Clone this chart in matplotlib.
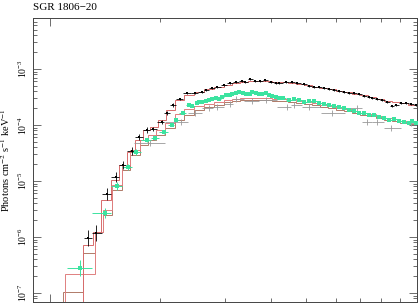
import numpy as np
import matplotlib
matplotlib.use("Agg")
import matplotlib.pyplot as plt
from matplotlib.ticker import LogLocator, LogFormatterMathtext, NullFormatter

plt.rcParams['font.family'] = ['Liberation Serif', 'DejaVu Serif']
plt.rcParams['mathtext.fontset'] = 'stix'

# black spectrum (keV, photons cm^-2 s^-1 keV^-1)
black_e = [1.27, 1.34, 1.43, 1.51, 1.58, 1.67, 1.745, 1.835, 1.905, 2.015, 2.09, 2.16,
           2.256, 2.37, 2.48, 2.59, 2.67, 2.76, 2.86, 2.99, 3.09, 3.22, 3.33, 3.41, 3.52,
           3.63, 3.74, 3.86, 4.01, 4.14, 4.22, 4.41, 4.58, 4.72, 4.93, 5.09, 5.25, 5.42,
           5.59, 5.77, 5.95, 6.14, 6.33, 6.53, 6.74, 6.96, 7.18, 7.41, 7.55, 7.79, 8.03,
           8.29, 8.55, 8.77, 9.05, 9.34, 9.63, 9.94]
black_f = [9.6e-7, 1.18e-6, 5.86e-6, 1.18e-5, 1.93e-5, 3.43e-5, 6.11e-5, 8.14e-5, 8.48e-5,
           1.13e-4, 1.64e-4, 2.28e-4, 2.91e-4, 3.73e-4, 3.73e-4, 3.89e-4, 4.22e-4, 4.58e-4,
           4.77e-4, 5.18e-4, 5.62e-4, 5.86e-4, 6.11e-4, 5.86e-4, 6.62e-4, 6.11e-4, 6.11e-4,
           6.37e-4, 5.86e-4, 5.62e-4, 5.62e-4, 5.86e-4, 5.86e-4, 5.62e-4, 5.40e-4, 4.97e-4,
           4.77e-4, 4.77e-4, 4.58e-4, 4.40e-4, 4.22e-4, 4.05e-4, 3.89e-4, 3.73e-4, 3.73e-4,
           3.58e-4, 3.30e-4, 3.16e-4, 3.03e-4, 2.91e-4, 2.79e-4, 2.57e-4, 2.18e-4, 2.28e-4,
           2.47e-4, 2.47e-4, 2.37e-4, 2.28e-4]
black_rel = [0.4, 0.4, 0.3, 0.25, 0.2, 0.18, 0.15, 0.12, 0.1, 0.1, 0.08, 0.08] + [0.05] * 46

# green spectrum
green_e = [1.206, 1.41, 1.52, 1.63, 1.72, 1.835, 1.93, 2.05, 2.145, 2.21, 2.30, 2.40, 2.446,
           2.51, 2.556, 2.60, 2.67, 2.72, 2.773, 2.84, 2.897, 2.95, 3.027, 3.09, 3.144,
           3.22, 3.283, 3.35, 3.43, 3.50, 3.56, 3.65, 3.72, 3.79, 3.89, 3.96, 4.04, 4.14,
           4.22, 4.325, 4.49, 4.63, 4.78, 4.93, 5.09, 5.25, 5.42, 5.59, 5.77, 5.95, 6.14,
           6.33, 6.53, 6.74, 6.96, 7.18, 7.41, 7.64, 7.88, 8.14, 8.39, 8.66, 8.94, 9.22,
           9.51, 9.69, 9.94]
green_f = [2.79e-7, 2.68e-6, 8.14e-6, 1.78e-5, 3.30e-5, 5.40e-5, 5.86e-5, 7.50e-5, 1.0e-4,
           1.23e-4, 1.64e-4, 2.28e-4, 2.18e-4, 2.47e-4, 2.57e-4, 2.57e-4, 2.68e-4, 2.79e-4,
           2.91e-4, 3.03e-4, 2.91e-4, 3.16e-4, 3.43e-4, 3.43e-4, 3.58e-4, 3.73e-4, 3.89e-4,
           3.73e-4, 3.58e-4, 3.58e-4, 3.89e-4, 3.73e-4, 3.58e-4, 3.58e-4, 3.73e-4, 3.43e-4,
           3.30e-4, 3.16e-4, 3.03e-4, 3.03e-4, 2.79e-4, 2.91e-4, 2.79e-4, 2.57e-4, 2.68e-4,
           2.68e-4, 2.47e-4, 2.37e-4, 2.28e-4, 2.18e-4, 2.10e-4, 2.01e-4, 1.85e-4, 1.78e-4,
           1.64e-4, 1.64e-4, 1.51e-4, 1.51e-4, 1.39e-4, 1.33e-4, 1.23e-4, 1.28e-4, 1.18e-4,
           1.13e-4, 1.09e-4, 1.18e-4, 1.09e-4]
green_rel = [0.4, 0.25, 0.2, 0.15, 0.12, 0.1, 0.1, 0.08] + [0.06] * 59

# grey spectrum
grey_e = [1.87, 2.28, 2.48, 2.72, 2.86, 3.09, 3.22, 3.56, 3.89, 4.43, 4.63, 5.09, 5.875,
          6.87, 7.31, 7.79, 8.50, 9.63]
grey_f = [4.77e-5, 1.13e-4, 1.64e-4, 2.01e-4, 2.10e-4, 2.37e-4, 2.91e-4, 2.68e-4, 2.79e-4,
          2.10e-4, 2.28e-4, 2.10e-4, 1.64e-4, 2.01e-4, 1.13e-4, 1.13e-4, 8.84e-5, 1.09e-4]
grey_rel = [0.15] * 18

# folded models (step functions)
edges_hi = [3.144, 3.304, 3.474, 3.652, 3.840, 4.036, 4.244, 4.462, 4.691, 4.931, 5.185,
            5.450, 5.730, 6.025, 6.333, 6.659, 7.000, 7.360, 7.738, 8.135, 8.553, 8.991,
            9.452, 10.06]
edges_a = [1.229, 1.309, 1.376, 1.465, 1.540, 1.619, 1.702, 1.789, 1.869, 1.965, 2.066,
           2.186, 2.327, 2.477, 2.637, 2.808, 2.990] + edges_hi
model_a = [7.2e-7, 1.23e-6, 4.58e-6, 1.04e-5, 1.93e-5, 3.30e-5, 5.40e-5, 8.14e-5, 9.2e-5,
           1.23e-4, 1.85e-4, 2.79e-4, 3.43e-4, 3.89e-4, 4.40e-4, 4.77e-4,
           5.18e-4, 5.62e-4, 5.86e-4, 6.11e-4, 6.11e-4, 6.11e-4, 5.86e-4, 5.86e-4, 5.62e-4,
           5.40e-4, 5.18e-4, 4.77e-4, 4.58e-4, 4.40e-4, 4.05e-4, 3.89e-4, 3.58e-4, 3.43e-4,
           3.16e-4, 2.91e-4, 2.68e-4, 2.57e-4, 2.47e-4, 2.28e-4]
edges_b = [1.098, 1.325, 1.393, 1.474, 1.569, 1.650, 1.756, 1.846, 1.941, 2.053, 2.186,
           2.327, 2.477, 2.637, 2.808, 2.990] + edges_hi
model_b = [2.18e-7, 1.23e-6, 3.03e-6, 8.48e-6, 1.93e-5, 3.58e-5, 5.40e-5, 6.62e-5, 8.14e-5,
           1.09e-4, 1.57e-4, 1.93e-4, 2.18e-4, 2.37e-4, 2.57e-4,
           2.79e-4, 2.91e-4, 3.03e-4, 3.03e-4, 3.03e-4, 3.03e-4, 2.91e-4, 2.91e-4, 2.79e-4,
           2.68e-4, 2.57e-4, 2.47e-4, 2.28e-4, 2.18e-4, 2.01e-4, 1.93e-4, 1.78e-4, 1.64e-4,
           1.57e-4, 1.45e-4, 1.33e-4, 1.28e-4, 1.18e-4, 1.13e-4]
edges_c = [1.085, 1.229, 1.325, 1.393, 1.474, 1.569, 1.650, 1.756, 1.846, 1.941, 2.053,
           2.186, 2.327, 2.477, 2.637, 2.808, 2.990] + edges_hi
model_c = [1.04e-7, 5.18e-7, 1.23e-6, 2.47e-6, 6.9e-6, 1.57e-5, 2.91e-5, 4.40e-5, 5.40e-5,
           6.62e-5, 8.84e-5, 1.23e-4, 1.51e-4, 1.85e-4, 2.10e-4, 2.28e-4,
           2.57e-4, 2.68e-4, 2.79e-4, 2.79e-4, 2.79e-4, 2.79e-4, 2.68e-4, 2.68e-4, 2.57e-4,
           2.47e-4, 2.37e-4, 2.28e-4, 2.10e-4, 2.01e-4, 1.85e-4, 1.78e-4, 1.64e-4, 1.51e-4,
           1.45e-4, 1.33e-4, 1.23e-4, 1.18e-4, 1.09e-4, 1.04e-4]


def half_widths(e):
    e = np.asarray(e)
    mids = np.sqrt(e[1:] * e[:-1])
    lo = np.concatenate([[e[0] / (mids[0] / e[0])], mids])
    hi = np.concatenate([mids, [e[-1] * (e[-1] / mids[-1])]])
    return [e - lo, hi - e]


def draw_data(ax, e, f, rel, color, marker, ms, lw):
    f = np.asarray(f)
    r = np.asarray(rel)
    yerr = [f - f / (1 + r), f * r]
    ax.errorbar(e, f, xerr=half_widths(e), yerr=yerr, fmt=marker, color=color,
                ms=ms, elinewidth=lw, capsize=0, mew=0, zorder=3)


fig = plt.figure(figsize=(4.19, 3.04), dpi=100)
ax = fig.add_axes([33 / 419, 2 / 304, 384 / 419, 284 / 304])

ax.stairs(model_c, edges_c, color='#b07a68', lw=0.7, zorder=2)
ax.stairs(model_b, edges_b, color='#e08080', lw=0.7, zorder=2)
ax.stairs(model_a, edges_a, color='#d86c6c', lw=0.7, zorder=2)

draw_data(ax, grey_e, grey_f, grey_rel, '#999999', 'none', 0, 0.6)
draw_data(ax, green_e, green_f, green_rel, '#3ce3a0', 's', 2.2, 0.7)
draw_data(ax, black_e, black_f, black_rel, '#000000', 's', 2.0, 0.6)

ax.set_xscale('log')
ax.set_yscale('log')
ax.set_xlim(0.9, 10.0)
ax.set_ylim(6.9e-8, 8.15e-3)

ax.yaxis.set_major_locator(LogLocator(base=10, numticks=10))
ax.yaxis.set_minor_locator(LogLocator(base=10, subs=np.arange(2, 10), numticks=10))
ax.yaxis.set_major_formatter(LogFormatterMathtext())
ax.yaxis.set_minor_formatter(NullFormatter())
ax.xaxis.set_major_formatter(NullFormatter())
ax.xaxis.set_minor_formatter(NullFormatter())
ax.tick_params(which='both', direction='in', top=True, right=True, color='#555555',
               width=0.6)
ax.tick_params(which='major', length=6)
ax.tick_params(which='minor', length=3)
ax.tick_params(axis='y', labelsize=7, labelrotation=90, pad=3)
for lab in ax.get_yticklabels():
    lab.set_va('center')
ax.tick_params(axis='x', labelbottom=False)
for s in ax.spines.values():
    s.set_linewidth(0.7)
    s.set_color('#444444')

ax.set_ylabel('Photons cm$^{-2}$ s$^{-1}$ keV$^{-1}$', fontsize=7.5, labelpad=3)
fig.text(33 / 419, 1 - 8 / 304, 'SGR 1806\u221220', fontsize=8, va='center', ha='left')

fig.savefig('out.png', dpi=100)
